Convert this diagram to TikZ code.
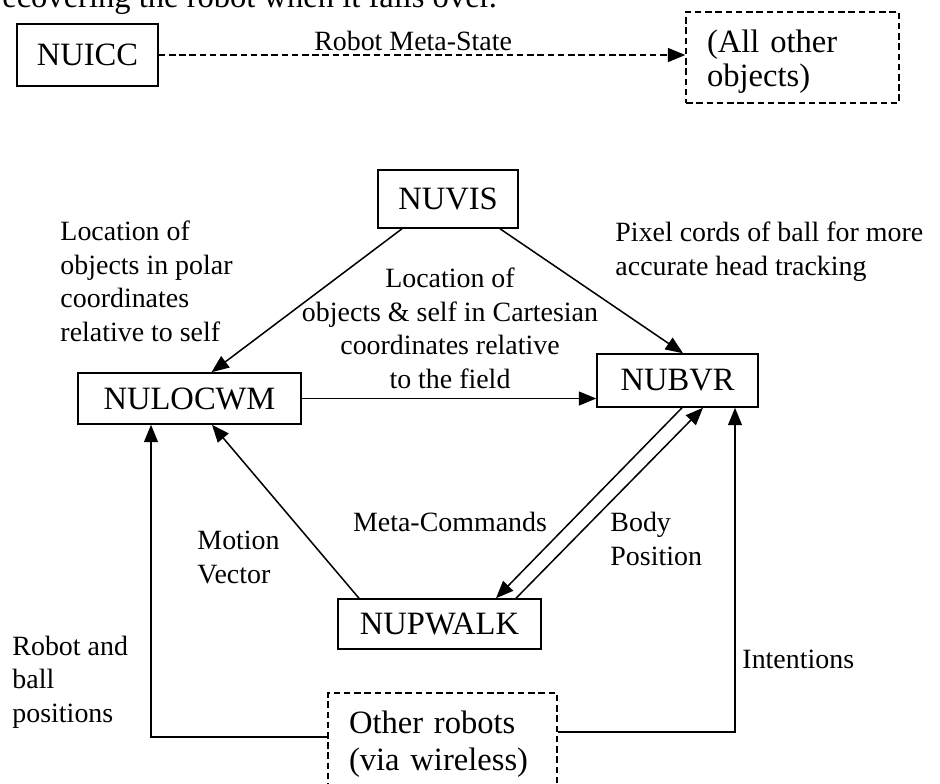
\documentclass[tikz,border=0pt]{standalone}
\usepackage{fontspec}
\setmainfont{Liberation Serif}
\usetikzlibrary{calc, arrows.meta}
\tikzset{>={Triangle[length=7.5pt, width=6pt]}}
\newcommand{\pxl}{0.43pt}
\tikzset{
  modbox/.style = {draw, line width=0.65pt, inner sep=0pt, font=\fontsize{14}{16}\selectfont},
  dashbox/.style = {modbox, dash pattern=on 2.8pt off 1.6pt, align=left, inner xsep=9pt, inner ysep=0pt},
  lbl/.style = {inner sep=0pt, align=left, font=\fontsize{12}{14.4}\selectfont},
  flow/.style = {->, line width=0.65pt},
}

\begin{document}
\begin{tikzpicture}[x=0.43pt, y=-0.43pt]
\useasboundingbox (0,0) rectangle (940,783);
\clip (0,0) rectangle (940,783);
% last line of the text above, cut by the frame
\node[lbl, font=\fontsize{14}{16}\selectfont, anchor=base west] (topline) at (-9,7) {recovering the robot when it falls over.};

% modules
\node[modbox, minimum width=141*\pxl, minimum height=62*\pxl] (nuicc) at (87.5,55) {NUICC};
\node[dashbox, text width=171*\pxl, text height=40*\pxl, text depth=51*\pxl, font=\fontsize{14}{15}\selectfont] (allother) at (792.5,57.5) {(All other\\objects)};
\node[modbox, minimum width=140*\pxl, minimum height=58*\pxl] (nuvis) at (448,199) {NUVIS};
\node[modbox, minimum width=223*\pxl, minimum height=51*\pxl] (nulocwm) at (189.5,398.5) {NULOCWM};
\node[modbox, minimum width=161*\pxl, minimum height=53*\pxl] (nubvr) at (677.5,380.5) {NUBVR};
\node[modbox, minimum width=203*\pxl, minimum height=50*\pxl] (nupwalk) at (439.5,624) {NUPWALK};
\node[dashbox, text width=187*\pxl, text height=40*\pxl, text depth=67*\pxl, font=\fontsize{14}{15.9}\selectfont] (others) at (442.5,746.5) {Other robots\\(via wireless)};

% labels (anchored at the last line)
\node[lbl, anchor=base west] (polar) at (60,341) {Location of\\objects in polar\\coordinates\\relative to self};
\node[lbl, anchor=base, align=center] (cartesian) at (450,388) {Location of\\objects \& self in Cartesian\\coordinates relative\\to the field};
\node[lbl, anchor=base west] (pixel) at (615,275) {Pixel cords of ball for more\\accurate head tracking};
\node[lbl, anchor=base] (metacmd) at (450,531) {Meta-Commands};
\node[lbl, anchor=base west] (bodypos) at (610,565) {Body\\Position};
\node[lbl, anchor=base west] (motion) at (197,583) {Motion\\Vector};
\node[lbl, anchor=base west] (robotball) at (12,722) {Robot and\\ball\\positions};
\node[lbl, anchor=base west] (intent) at (742,668) {Intentions};

% connectors
\draw[flow, dash pattern=on 2.8pt off 1.6pt] (nuicc.east) -- (nuicc.east -| allother.west)
  node[lbl, pos=0.483, above=1.5pt] (metastate) {Robot Meta-State};
\draw[flow] ($(nuvis.south)+(-46,0)$) -- ($(nulocwm.north)+(22,0)$);
\draw[flow] ($(nuvis.south)+(52,0)$) -- ($(nubvr.north)+(5.5,0)$);
\draw[flow] (nulocwm.east) -- (nulocwm.east -| nubvr.west);
\draw[flow] ($(nubvr.south)+(4.5,0)$) -- ($(nupwalk.north)+(56.5,0)$);
\draw[flow] ($(nupwalk.north)+(76.5,0)$) -- ($(nubvr.south)+(25.5,0)$);
\draw[flow] ($(nupwalk.north)+(-80.5,0)$) -- ($(nulocwm.south)+(22.5,0)$);
\draw[flow] ($(others.west)+(0,-9.5)$) -| ($(nulocwm.south)+(-38.5,0)$);
\draw[flow] ($(others.east)+(0,-14.5)$) -| ($(nubvr.south)+(57.5,0)$);
\end{tikzpicture}
\end{document}
